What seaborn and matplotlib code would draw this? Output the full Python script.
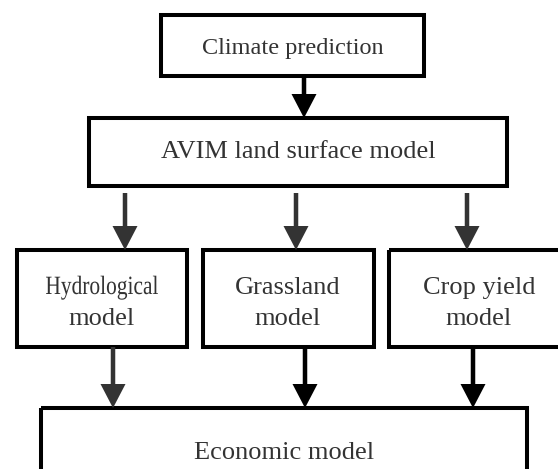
import matplotlib
matplotlib.use("Agg")
import matplotlib.pyplot as plt
from matplotlib.patches import Rectangle, PathPatch
from matplotlib.textpath import TextPath
from matplotlib.font_manager import FontProperties
from matplotlib.transforms import Affine2D
import seaborn as sns

# boxes: left, top, right, bottom (pixel layout of the flowchart)
box_left = [161, 89, 17, 203, 389, 41]
box_top = [15, 118, 250, 250, 250, 408]
box_right = [424, 507, 187, 374, 575, 527]
box_bottom = [76, 186, 347, 347, 347, 490]

# text lines: label, x centre, baseline y, font size
line_labels = ["Climate prediction", "AVIM land surface model",
               "Hydrological", "model", "Grassland", "model",
               "Crop yield", "model", "Economic model"]
line_x = [293, 298, 102, 102, 288, 288, 479, 479, 284]
line_base = [54, 158, 294, 325, 294, 325, 294, 325, 459]
line_size = [17.5, 19, 19, 19, 19, 19, 19, 19, 19]
condensed = "Hydrological"   # drawn narrower, as in the original
condensed_width = 112

# arrows: x, start y, tip y, colour
arrow_x = [304, 125, 296, 467, 113, 305, 473]
arrow_y0 = [76, 193, 193, 193, 347, 347, 347]
arrow_y1 = [118, 250, 250, 250, 408, 408, 408]
arrow_col = ["black", "#333333", "#333333", "#333333", "#333333", "black", "black"]

sns.set_style("white")
plt.rcParams['font.family'] = ['Liberation Serif', 'DejaVu Serif']
text_col = "#333333"

fig = plt.figure(figsize=(5.58, 4.69), dpi=100)
ax = fig.add_axes([0, 0, 1, 1])
ax.set_xlim(0, 558)
ax.set_ylim(469, 0)
ax.axis("off")

## boxes
for i in range(len(box_left)):
    rect = Rectangle((box_left[i], box_top[i]), box_right[i] - box_left[i],
                     box_bottom[i] - box_top[i], fill=False,
                     edgecolor="black", linewidth=2.9)
    ax.add_patch(rect)

## text
fp = FontProperties(family='Liberation Serif')
for i in range(len(line_labels)):
    if line_labels[i] == condensed:
        em = line_size[i] * 100 / 72   # pixels per em
        tp = TextPath((0, 0), line_labels[i], prop=fp, size=1)
        ext = tp.get_extents()
        sx = condensed_width / ext.width
        tr = (Affine2D().translate(-(ext.x0 + ext.width / 2), 0)
              .scale(sx, -em).translate(line_x[i], line_base[i]))
        ax.add_patch(PathPatch(tr.transform_path(tp), facecolor=text_col,
                               edgecolor="none"))
    else:
        ax.text(line_x[i], line_base[i], line_labels[i], ha="center",
                va="baseline", fontsize=line_size[i], color=text_col)

## arrows
for i in range(len(arrow_x)):
    ax.arrow(arrow_x[i], arrow_y0[i], 0, arrow_y1[i] - arrow_y0[i],
             width=4.5, head_width=25, head_length=24,
             length_includes_head=True, color=arrow_col[i], linewidth=0)

plt.savefig("out.png", dpi=100)
